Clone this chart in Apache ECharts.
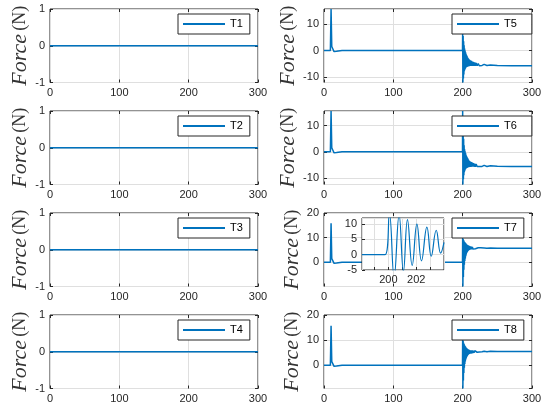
<!DOCTYPE html>
<html>
<head>
<meta charset="utf-8">
<script src="https://cdn.jsdelivr.net/npm/echarts@6/dist/echarts.min.js"></script>
<style>
  html, body { margin: 0; padding: 0; background: #fff; }
  #chart { width: 546px; height: 407px; }
</style>
</head>
<body>
<div id="chart"></div>
<script>
// Tether forces T1..T8 over a 300 s run.
const seriesNames = ['T1', 'T2', 'T3', 'T4', 'T5', 'T6', 'T7', 'T8'];
const xTickStep = 100;
const xRange = [0, 300];

// T1..T4 stay at rest for the whole run
const tRest = [0, 300];
const forceT1 = [0, 0];
const forceT2 = [0, 0];
const forceT3 = [0, 0];
const forceT4 = [0, 0];

// start-up transient (t < 200 s), shared time base for T5..T8
const tStart = [0, 9.2, 10.2, 11.2, 12.0, 12.8, 14.5, 18, 26, 199.75];
const startT5 = [0, 0, 15.6, 1.5, 1.8, 0.6, -0.4, -0.3, 0, 0];
const startT6 = [0, 0, 15.6, 1.5, 1.8, 0.6, -0.4, -0.3, 0, 0];
const startT7 = [0, 0, 15.8, 1.5, 1.8, 0.6, -0.4, -0.3, 0, 0];
const startT8 = [0, 0, 15.7, 1.5, 1.8, 0.6, -0.4, -0.3, 0, 0];

// ringing after the event at t = 200 s (alternating crests and troughs)
const tPost = [
  200.0, 200.35, 200.7, 201.05, 201.4, 201.75, 202.1, 202.45, 202.8, 203.15,
  203.5, 203.85, 204.2, 204.55, 204.9, 205.25, 205.6, 205.95, 206.3, 206.65,
  207.0, 207.35, 207.7, 208.05, 208.4, 208.75, 209.1, 209.45, 209.8, 210.5,
  211.2, 211.9, 212.6, 213.3, 214.0, 214.7, 215.4, 216.4, 217.4, 218.4,
  219.4, 220.9, 222.4, 224, 226, 228, 231, 235, 240, 250,
  270, 300
];
const postT5 = [
  7.0, -12.0, 5.5, -10.5, 3.5, -9.0, 2.0, -7.8, 0.8, -7.2,
  0.0, -6.8, -0.6, -6.5, -1.2, -6.3, -1.7, -6.2, -2.1, -6.1,
  -2.5, -6.0, -2.8, -6.0, -3.1, -5.9, -3.3, -5.9, -3.5, -5.8,
  -3.7, -5.8, -3.9, -5.8, -4.1, -5.8, -4.3, -5.7, -4.5, -5.7,
  -4.7, -5.7, -4.9, -5.7, -5.0, -5.6, -5.2, -5.6, -5.4, -5.6,
  -5.7, -5.7
];
const postT6 = [
  15.6, -12.5, 8.0, -10.5, 5.0, -9.0, 2.5, -7.8, 1.0, -7.2,
  0.2, -6.8, -0.5, -6.5, -1.1, -6.3, -1.6, -6.2, -2.0, -6.1,
  -2.4, -6.0, -2.7, -5.9, -3.0, -5.9, -3.3, -5.8, -3.5, -5.8,
  -3.7, -5.8, -3.9, -5.7, -4.1, -5.7, -4.3, -5.7, -4.5, -5.7,
  -4.7, -5.6, -4.9, -5.6, -5.0, -5.6, -5.2, -5.6, -5.3, -5.5,
  -5.6, -5.6
];
const postT7 = [
  10.1, -9.8, 9.5, -6.0, 9.0, -3.0, 8.5, -1.0, 8.2, 0.5,
  8.0, 1.5, 7.8, 2.5, 7.5, 3.2, 7.3, 3.8, 7.1, 4.2,
  7.0, 4.5, 6.9, 4.7, 6.8, 4.9, 6.7, 5.0, 6.6, 5.1,
  6.5, 5.2, 6.4, 5.3, 6.3, 5.4, 6.2, 5.5, 6.1, 5.5,
  6.0, 5.6, 5.9, 5.6, 5.9, 5.7, 5.8, 5.7, 5.8, 5.7,
  5.7, 5.7
];
const postT8 = [
  10.8, -9.2, 9.8, -6.0, 9.0, -3.0, 8.5, -1.0, 8.0, 0.5,
  7.7, 1.5, 7.4, 2.3, 7.1, 2.8, 6.9, 3.3, 6.7, 3.7,
  6.5, 4.0, 6.4, 4.2, 6.3, 4.4, 6.2, 4.5, 6.1, 4.6,
  6.0, 4.7, 5.9, 4.8, 5.9, 4.9, 5.8, 5.0, 5.8, 5.1,
  5.7, 5.2, 5.7, 5.3, 5.7, 5.4, 5.6, 5.4, 5.6, 5.5,
  5.5, 5.5
];

// close-up of T7 right after t = 200 s
const insetTime = [198.1, 199.76, 200.07, 200.41, 200.77, 201.08, 201.37, 201.71,
  202.05, 202.38, 202.77, 203.08, 203.44, 203.76, 204.0];
const insetForce = [0, 0, 13.5, -7.5, 13.0, -5.5, 11.5, -3.5,
  10.0, -2.0, 9.0, -0.5, 8.0, 0.5, 4.0];
const insetXRange = [198.1, 204];
const insetYRange = [-5, 12];
const insetXLabels = [200, 202];

// vertical limits and tick spacing of each panel
const yMin = [-1, -1, -1, -1, -12, -12.5, -9.8, -9.2];
const yMax = [1, 1, 1, 1, 15.6, 15.6, 20, 20];
const yStep = [1, 1, 1, 1, 10, 10, 10, 10];

function zip(xs, ys) { return xs.map((x, k) => [x, ys[k]]); }
const panelData = [
  zip(tRest, forceT1), zip(tRest, forceT2), zip(tRest, forceT3), zip(tRest, forceT4),
  zip(tStart.concat(tPost), startT5.concat(postT5)),
  zip(tStart.concat(tPost), startT6.concat(postT6)),
  zip(tStart.concat(tPost), startT7.concat(postT7)),
  zip(tStart.concat(tPost), startT8.concat(postT8))
];

// ---- layout / style ----
const BLUE = '#0072BD';
const INK = '#262626';
const GRIDLINE = '#dfdfdf';
const SANS = 'Liberation Sans, Arial, Helvetica, sans-serif';
const SERIF = 'Liberation Serif, Times New Roman, serif';
const colLeft = [50, 324];
const plotW = 208;
const rowTop = [9, 111, 213, 315];
const plotH = 73.5;
const legendLeft = [178, 452];
const legendPadRight = [7, 7, 7, 7, 15, 15, 7, 7];

const grids = [], xAxes = [], yAxes = [], series = [], legends = [];
const tickStyle = { show: true, inside: true, length: 3, lineStyle: { color: INK, width: 1 } };
const labelStyle = { color: INK, fontSize: 11, fontFamily: SANS };
const noLine = { show: false, onZero: false };

seriesNames.forEach((name, i) => {
  const col = i < 4 ? 0 : 1;
  const row = i % 4;
  const g = grids.length;
  grids.push({
    left: colLeft[col], top: rowTop[row], width: plotW, height: plotH,
    show: true, borderColor: INK, borderWidth: 1, backgroundColor: 'transparent'
  });
  const xi = xAxes.length;
  xAxes.push({
    type: 'value', gridIndex: g, min: xRange[0], max: xRange[1], interval: xTickStep,
    axisLine: noLine, axisTick: tickStyle,
    axisLabel: Object.assign({ margin: 5 }, labelStyle),
    splitLine: { show: true, lineStyle: { color: GRIDLINE, width: 1 } }
  });
  xAxes.push({
    type: 'value', gridIndex: g, position: 'top', min: xRange[0], max: xRange[1], interval: xTickStep,
    axisLine: noLine, axisTick: tickStyle, axisLabel: { show: false }, splitLine: { show: false }
  });
  const yi = yAxes.length;
  const minOnTick = Number.isInteger(yMin[i] / yStep[i]);
  const maxOnTick = Number.isInteger(yMax[i] / yStep[i]);
  yAxes.push({
    type: 'value', gridIndex: g, min: yMin[i], max: yMax[i],
    minInterval: yStep[i], maxInterval: yStep[i],
    axisLine: noLine, axisTick: tickStyle,
    axisLabel: Object.assign({ margin: 5, showMinLabel: minOnTick, showMaxLabel: maxOnTick }, labelStyle),
    splitLine: { show: true, lineStyle: { color: GRIDLINE, width: 1 } },
    name: '{i|Force} {n|(N)}', nameLocation: 'middle', nameRotate: 90, nameGap: 18,
    nameTextStyle: {
      rich: {
        i: { fontFamily: SERIF, fontStyle: 'italic', fontSize: 22, color: '#333' },
        n: { fontFamily: SERIF, fontSize: 18, color: '#333' }
      }
    }
  });
  yAxes.push({
    type: 'value', gridIndex: g, position: 'right', min: yMin[i], max: yMax[i],
    minInterval: yStep[i], maxInterval: yStep[i],
    axisLine: noLine, axisTick: tickStyle, axisLabel: { show: false }, splitLine: { show: false }
  });
  series.push({
    name, type: 'line', xAxisIndex: xi, yAxisIndex: yi, data: panelData[i],
    symbol: 'none', clip: true, color: BLUE,
    lineStyle: { color: BLUE, width: 1.5 }, z: 2
  });
  legends.push({
    data: [name], left: legendLeft[col], top: rowTop[row] + 5,
    icon: 'rect', itemWidth: 42, itemHeight: 2, itemGap: 0,
    padding: [4, legendPadRight[i], 4, 5],
    borderColor: INK, borderWidth: 1, backgroundColor: '#fff',
    selectedMode: false,
    textStyle: { color: '#000', fontSize: 11, fontFamily: SANS, lineHeight: 12 }
  });
});

// inset panel inside T7
const ig = grids.length;
grids.push({
  left: 362, top: 218, width: 82, height: 52, z: 10,
  show: true, borderColor: INK, borderWidth: 1, backgroundColor: '#fff'
});
const ixi = xAxes.length;
xAxes.push({
  type: 'value', gridIndex: ig, min: insetXRange[0], max: insetXRange[1],
  minInterval: 1, maxInterval: 1, z: 11,
  axisLine: noLine, axisTick: tickStyle,
  axisLabel: Object.assign({
    margin: 4, showMinLabel: false, showMaxLabel: false,
    formatter: v => (insetXLabels.indexOf(v) >= 0 ? String(v) : '')
  }, labelStyle),
  splitLine: { show: true, lineStyle: { color: GRIDLINE, width: 1 } }
});
const iyi = yAxes.length;
yAxes.push({
  type: 'value', gridIndex: ig, min: insetYRange[0], max: insetYRange[1], interval: 5, z: 11,
  axisLine: noLine, axisTick: tickStyle,
  axisLabel: Object.assign({ margin: 5, showMaxLabel: false }, labelStyle),
  splitLine: { show: true, lineStyle: { color: GRIDLINE, width: 1 } }
});
series.push({
  name: 'T7 detail', type: 'line', xAxisIndex: ixi, yAxisIndex: iyi,
  data: zip(insetTime, insetForce), symbol: 'none', smooth: 0.45, clip: true,
  color: BLUE, lineStyle: { color: BLUE, width: 1.2 }, z: 12
});

const chart = echarts.init(document.getElementById('chart'), null, { renderer: 'canvas' });
chart.setOption({
  animation: false,
  backgroundColor: '#fff',
  grid: grids, xAxis: xAxes, yAxis: yAxes, series, legend: legends
});
</script>
</body>
</html>
